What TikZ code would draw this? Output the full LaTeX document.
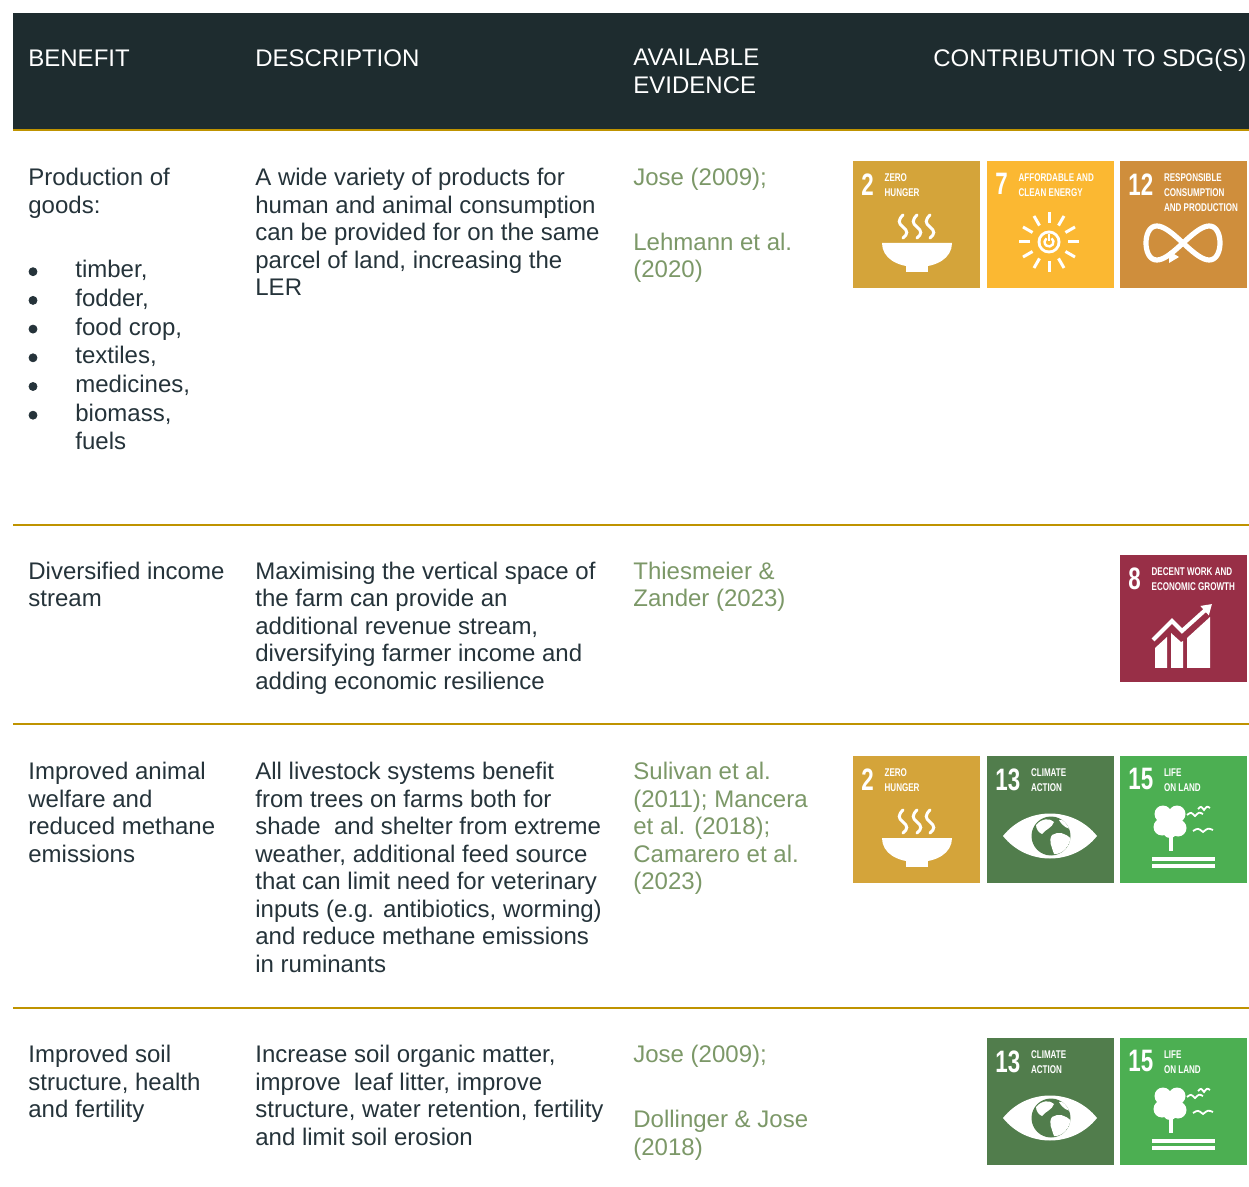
\documentclass[tikz,border=0pt]{standalone}
\usepackage{fontspec}
\setmainfont{Liberation Sans}
\newfontfamily\sdgfont[FakeStretch=0.72]{Liberation Sans}
\usetikzlibrary{positioning,arrows.meta}

\definecolor{head}{HTML}{1E2C2F}
\definecolor{ink}{HTML}{25333A}
\definecolor{gold}{HTML}{BF9300}
\definecolor{evgreen}{HTML}{7C9868}
\definecolor{sdgtwo}{HTML}{D4A43A}
\definecolor{sdgseven}{HTML}{FBB832}
\definecolor{sdgtwelve}{HTML}{CF8E3C}
\definecolor{sdgeight}{HTML}{982F47}
\definecolor{sdgthirteen}{HTML}{517D4C}
\definecolor{sdgfifteen}{HTML}{4CAF52}

\tikzset{
  txt/.style={anchor=base west, inner sep=0pt, align=left, text=ink, font=\fontsize{12}{13.75}\selectfont},
  hd/.style={txt, text=white},
  ev/.style={txt, text=evgreen},
  rule/.style={gold, line width=1pt},
  dot/.style={draw=ink, shape=circle, fill=ink, minimum size=4pt, inner sep=0pt},
  sdgnum/.style={anchor=north west, inner sep=0pt, text=white, font=\sdgfont\bfseries\fontsize{15.5}{15.5}\selectfont},
  sdgtitle/.style={anchor=north west, inner sep=0pt, align=left, text=white, font=\sdgfont\bfseries\fontsize{5.6}{7.5}\selectfont},
  icon/.style={white, line width=1.5pt, line cap=round},
  pics/sdgtile/.style n args={3}{code={
    \fill[#1] (0,0) rectangle (127,127);
    \node[sdgnum] (-n) at (8,12) {#2};
    \node[sdgtitle, right=5pt of -n.north east, anchor=north west] (-t) {#3};
  }},
  pics/bowl/.style={code={
    \fill[white] (29,82) -- (99,82) .. controls (99,97) and (84,106) .. (64,106) .. controls (44,106) and (29,97) .. cycle;
    \fill[white] (53,103) rectangle (75,111);
    \foreach \sx in {50,64,77}
      \draw[icon] (\sx,54) .. controls (\sx-5,59) and (\sx-5,62) .. (\sx,66) .. controls (\sx+5,70) and (\sx+5,73) .. (\sx,77);
  }},
  pics/sun/.style={code={
    \foreach \a in {0,30,...,330}
      \draw[white, line width=1.5pt] (62,81) ++(\a:19) -- ++(\a:11);
    \fill[white] (62,81) circle (11.5);
    \fill[sdgseven] (62,81) circle (8.5);
    \draw[white, line width=1.2pt] (62,81) ++(-55:4.5) arc[start angle=-55, end angle=235, radius=4.5];
    \draw[white, line width=1.2pt] (62,73) -- (62,80);
  }},
  pics/loop/.style={code={
    \draw[white, line width=2.6pt] plot[smooth cycle, variable=\t, domain=0:355, samples=72] ({63+37*sin(\t)},{82+17*sin(2*\t)});
    \fill[white] (49,90) -- (59,96) -- (49,102) -- cycle;
  }},
  pics/chart/.style={code={
    \fill[white] (35,113) -- (35,93) -- (47,82) -- (47,113) -- cycle;
    \fill[white] (51,113) -- (51,78) -- (61,87) -- (63,86) -- (63,113) -- cycle;
    \fill[white] (67,113) -- (67,83) -- (90,62) -- (90,113) -- cycle;
    \draw[white, line width=2pt, -{Triangle[length=5pt,width=6pt]}] (33,85) -- (52,66) -- (62,76) -- (92,49);
  }},
  pics/eye/.style={code={
    \fill[white] (16,80) .. controls (40,50) and (86,50) .. (110,80) .. controls (86,110) and (40,110) .. cycle;
    \fill[sdgthirteen] (64,80) circle (19.5);
    \begin{scope}
      \clip (64,80) circle (19.5);
      \fill[white] (49,69) .. controls (55,62) and (63,62) .. (67,66) .. controls (65,72) and (59,73) .. (55,78) .. controls (52,77) and (49,73) .. cycle;
      \fill[white] (65,79) .. controls (71,75) and (79,77) .. (84,83) .. controls (81,93) and (73,99) .. (67,98) .. controls (65,91) and (61,85) .. cycle;
      \fill[white] (72,64) .. controls (78,62) and (83,66) .. (85,73) .. controls (81,73) and (76,71) .. cycle;
    \end{scope}
  }},
  pics/tree/.style={code={
    \fill[white] (43,58) circle (8.5) (57,58) circle (8.5) (42,71) circle (8.5) (58,72) circle (8.5) (50,66) circle (10.5) (50,75) circle (7);
    \fill[white] (49,80) rectangle (53,95);
    \fill[white] (32,101) rectangle (95,104.5);
    \fill[white] (32,108) rectangle (95,111.5);
    \foreach \bx/\by/\bw in {84/53/6,75/59/8,83/75/10}
      \draw[white, line width=0.9pt] (\bx-\bw,\by) .. controls (\bx-\bw/2,\by-3) .. (\bx,\by+1) .. controls (\bx+\bw/2,\by-3) .. (\bx+\bw,\by-1);
  }},
}

\begin{document}
\begin{tikzpicture}[x=0.5pt, y=-0.5pt]
\useasboundingbox (0,0) rectangle (1249,1187);
\fill[white] (0,0) rectangle (1249,1187);
\fill[head] (13,13) rectangle (1249,129);
\draw[rule] (13,130) -- (1249,130);
\draw[rule] (13,525) -- (1249,525);
\draw[rule] (13,724.5) -- (1249,724.5);
\draw[rule] (13,1007.5) -- (1249,1007.5);

\node[hd] (hben) at (28,67) {BENEFIT};
\node[hd] (hdes) at (255,67) {DESCRIPTION};
\node[hd] (hev) at (633,93.5) {AVAILABLE\\EVIDENCE};
\node[hd] (hsdg) at (933,67) {CONTRIBUTION TO SDG(S)};

\node[txt] (ben1) at (28,185.7+27.5) {Production of\\goods:};
\foreach \thing [count=\i] in {{timber,},{fodder,},{food crop,},{textiles,},{medicines,},{biomass,},{fuels}}
  \node[txt] (it\i) at (75,249+28.7*\i) {\thing};
\foreach \i in {1,...,6}
  \node[dot] (b\i) at (33,243+28.7*\i) {};
\node[txt] (des1) at (255,185.7+4*27.5) {A wide variety of products for\\human and animal consumption\\can be provided for on the same\\parcel of land, increasing the\\LER};
\node[ev] (ev1) at (633,185.7) {Jose (2009);};
\node[ev] (ev1b) at (633,250.5+27.5) {Lehmann et al.\\(2020)};
\pic (s1a) at (853,161) {sdgtile={sdgtwo}{2}{ZERO\\HUNGER}};
\pic at (853,161) {bowl};
\pic (s1b) at (987,161) {sdgtile={sdgseven}{7}{AFFORDABLE AND\\CLEAN ENERGY}};
\pic at (987,161) {sun};
\pic (s1c) at (1120,161) {sdgtile={sdgtwelve}{12}{RESPONSIBLE\\CONSUMPTION\\AND PRODUCTION}};
\pic at (1120,161) {loop};

\node[txt] (ben2) at (28,579.5+27.5) {Diversified income\\stream};
\node[txt] (des2) at (255,579.5+4*27.5) {Maximising the vertical space of\\the farm can provide an\\additional revenue stream,\\diversifying farmer income and\\adding economic resilience};
\node[ev] (ev2) at (633,579.5+27.5) {Thiesmeier \&\\Zander (2023)};
\pic (s2a) at (1120,555) {sdgtile={sdgeight}{8}{DECENT WORK AND\\ECONOMIC GROWTH}};
\pic at (1120,555) {chart};

\node[txt] (ben3) at (28,779.5+3*27.5) {Improved animal\\welfare and\\reduced methane\\emissions};
\node[txt] (des3) at (255,779.5+7*27.5) {All livestock systems benefit\\from trees on farms both for\\shade~ and shelter from extreme\\weather, additional feed source\\that can limit need for veterinary\\inputs (e.g. antibiotics, worming)\\and reduce methane emissions\\in ruminants};
\node[ev] (ev3) at (633,779.5+4*27.5) {Sulivan et al.\\(2011); Mancera\\et al. (2018);\\Camarero et al.\\(2023)};
\pic (s3a) at (853,756) {sdgtile={sdgtwo}{2}{ZERO\\HUNGER}};
\pic at (853,756) {bowl};
\pic (s3b) at (987,756) {sdgtile={sdgthirteen}{13}{CLIMATE\\ACTION}};
\pic at (987,756) {eye};
\pic (s3c) at (1120,756) {sdgtile={sdgfifteen}{15}{LIFE\\ON LAND}};
\pic at (1120,756) {tree};

\node[txt] (ben4) at (28,1062.5+2*27.5) {Improved soil\\structure, health\\and fertility};
\node[txt] (des4) at (255,1062.5+3*27.5) {Increase soil organic matter,\\improve~ leaf litter, improve\\structure, water retention, fertility\\and limit soil erosion};
\node[ev] (ev4) at (633,1062.5) {Jose (2009);};
\node[ev] (ev4b) at (633,1127.5+27.5) {Dollinger \& Jose\\(2018)};
\pic (s4a) at (987,1038) {sdgtile={sdgthirteen}{13}{CLIMATE\\ACTION}};
\pic at (987,1038) {eye};
\pic (s4b) at (1120,1038) {sdgtile={sdgfifteen}{15}{LIFE\\ON LAND}};
\pic at (1120,1038) {tree};
\end{tikzpicture}
\end{document}
